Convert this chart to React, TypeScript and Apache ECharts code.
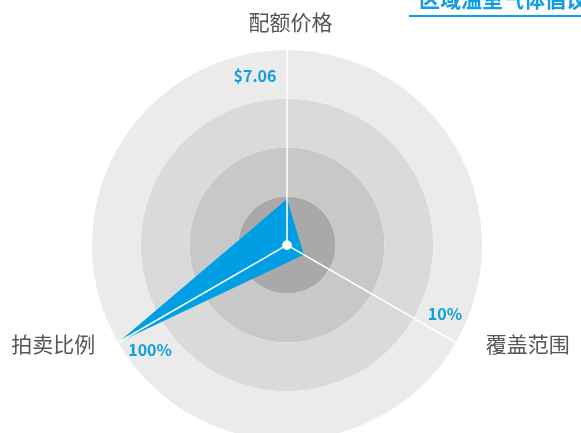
import React, { useEffect, useRef } from "react";
import * as echarts from "echarts";

const titleText = "区域温室气体倡议";
const indicatorNames = ["配额价格", "拍卖比例", "覆盖范围"];
const indicatorMax = [30, 100, 100];
const seriesValues = [7.06, 100, 10];
const valueLabels = ["$7.06", "100%", "10%"];
const labelRadiusShare = 0.87;
const ringColors = ["#a9a9a9", "#c8c8c8", "#dadada", "#ebebeb"];

const BLUE = "#009fe3";
const LABEL_BLUE = "#0f9ee0";
const FONT = '"Noto Sans CJK SC", "Noto Sans", sans-serif';

const labelOffsets: [number, number][] = [
  [-32, 0],
  [10, 19],
  [11, -17],
];

export default function App() {
  const ref = useRef<HTMLDivElement>(null);
  useEffect(() => {
    document.body.style.margin = "0";
    const chart = echarts.init(ref.current!, null, { renderer: "svg" });
    const center = [287, 245];
    const radius = 195;

    const helperSeries = valueLabels.map((txt, k) => ({
      type: "radar",
      radarIndex: 0,
      z: 5,
      silent: true,
      symbol: "circle",
      symbolSize: 1,
      itemStyle: { color: "rgba(0,0,0,0)" },
      lineStyle: { width: 0, opacity: 0 },
      areaStyle: { opacity: 0 },
      label: {
        show: true,
        position: "inside",
        offset: labelOffsets[k],
        color: LABEL_BLUE,
        fontSize: 16,
        fontWeight: "bold",
        fontFamily: FONT,
        formatter: (p: any) => (p.value > 0 ? txt : ""),
      },
      data: [
        {
          value: indicatorMax.map((m, i) => (i === k ? m * labelRadiusShare : 0)),
        },
      ],
    }));

    chart.setOption({
      animation: false,
      title: {
        text: titleText,
        left: 414,
        top: -18,
        textStyle: { color: LABEL_BLUE, fontSize: 21, fontWeight: "bold", fontFamily: FONT },
      },
      graphic: [
        {
          type: "rect",
          left: 409,
          top: 15,
          shape: { width: 180, height: 2 },
          style: { fill: LABEL_BLUE },
        },
      ],
      radar: [
        {
          z: 1,
          center,
          radius,
          shape: "circle",
          splitNumber: 4,
          startAngle: 90,
          nameGap: 1,
          indicator: indicatorNames.map((n, i) => ({ name: n, max: indicatorMax[i], min: 0 })),
          axisName: {
            color: "#555",
            fontSize: 21,
            fontFamily: FONT,
            padding: [18, 22, 18, 29],
          },
          splitArea: { show: true, areaStyle: { color: ringColors } },
          splitLine: { show: false },
          axisLine: { show: false },
          axisTick: { show: false },
          axisLabel: { show: false },
        },
        {
          z: 3,
          center,
          radius,
          shape: "circle",
          splitNumber: 4,
          startAngle: 90,
          indicator: indicatorNames.map((n, i) => ({ name: n, max: indicatorMax[i], min: 0 })),
          axisName: { show: false },
          splitArea: { show: false },
          splitLine: { show: false },
          axisLine: { show: true, lineStyle: { color: "#ffffff", width: 1.5 } },
          axisTick: { show: false },
          axisLabel: { show: false },
        },
      ],
      series: [
        {
          type: "radar",
          radarIndex: 0,
          z: 2,
          symbol: "none",
          lineStyle: { width: 0 },
          areaStyle: { color: BLUE, opacity: 1 },
          data: [{ value: seriesValues }],
        },
        ...helperSeries,
        {
          type: "radar",
          radarIndex: 1,
          z: 6,
          symbol: "circle",
          symbolSize: 9,
          itemStyle: { color: "#ffffff", borderWidth: 0 },
          lineStyle: { width: 0, opacity: 0 },
          data: [{ value: [0, 0, 0] }],
        },
      ],
    });
    return () => chart.dispose();
  }, []);
  return <div ref={ref} style={{ position: "fixed", left: 0, top: 0, width: 581, height: 433 }} />;
}
